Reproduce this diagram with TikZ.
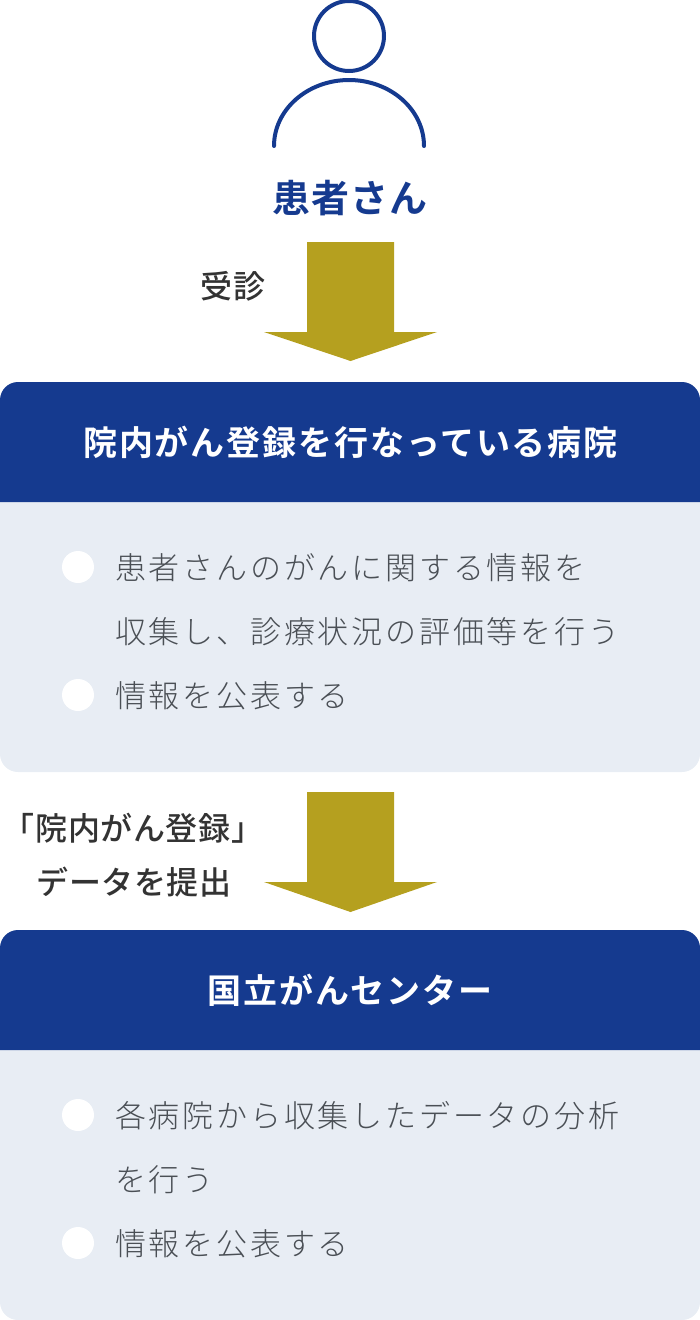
\documentclass[tikz,border=0pt]{standalone}
\usepackage{fontspec}
\newfontfamily\jpbody[LetterSpace=9]{Noto Sans CJK JP Light}
\newfontfamily\jphead[LetterSpace=5.5]{Noto Sans CJK JP Bold}
\newfontfamily\jpname[LetterSpace=2]{Noto Sans CJK JP Bold}
\newfontfamily\jpside[LetterSpace=2]{Noto Sans CJK JP Medium}
\usetikzlibrary{positioning}
\definecolor{navy}{HTML}{153A8F}
\definecolor{gold}{HTML}{B5A01F}
\definecolor{pale}{HTML}{E8EDF4}
\definecolor{ink}{HTML}{333333}
\definecolor{bodyink}{HTML}{4A4F55}
\tikzset{
  bodytext/.style={anchor=west, inner sep=0pt, text=bodyink, font=\jpbody\fontsize{31}{36}\selectfont},
  headtext/.style={inner sep=0pt, text=white, font=\jphead\fontsize{34}{38}\selectfont},
  sidetext/.style={inner sep=0pt, text=ink, font=\jpside\fontsize{32}{36}\selectfont}
}
\begin{document}
\begin{tikzpicture}[x=1pt, y=-1pt]
  \useasboundingbox (0,0) rectangle (700,1320);

  % person
  \draw[navy, line width=4pt] (349,36) circle (35);
  \draw[navy, line width=4pt, line cap=round] (274,146) arc[start angle=180, end angle=360, x radius=75, y radius=66];
  \node[inner sep=0pt, text=navy, font=\jpname\fontsize{38}{42}\selectfont] (patient) at (350,198) {患者さん};

  % first arrow
  \fill[gold] (307,242) -- (394,242) -- (394,332) -- (437,332) -- (350.5,361) -- (264,332) -- (307,332) -- cycle;
  \node[sidetext] (visit) at (233,286) {受診};

  % hospital panel
  \fill[pale] (0,502) -- (700,502) [rounded corners=18] -- (700,772) -- (0,772) [sharp corners] -- cycle;
  \fill[navy] (0,502) [rounded corners=18] -- (0,382) -- (700,382) [sharp corners] -- (700,502) -- cycle;
  \node[headtext] (hospital) at (350.5,442) {院内がん登録を行なっている病院};
  \fill[white] (78,567) circle (16);
  \fill[white] (78,695) circle (16);
  \node[bodytext] (collect) at (115,568) {患者さんのがんに関する情報を};
  \node[bodytext] (assess) at (115,632) {収集し、診療状況の評価等を行う};
  \node[bodytext] (publish) at (115,696) {情報を公表する};

  % second arrow
  \fill[gold] (307,792) -- (394,792) -- (394,882) -- (437,882) -- (350.5,912) -- (264,882) -- (307,882) -- cycle;
  \node[sidetext] (registry) at (133,828) {「院内がん登録」};
  \node[sidetext] (submit) at (134,882) {データを提出};

  % center panel
  \fill[pale] (0,1050) -- (700,1050) [rounded corners=18] -- (700,1320) -- (0,1320) [sharp corners] -- cycle;
  \fill[navy] (0,1050) [rounded corners=18] -- (0,930) -- (700,930) [sharp corners] -- (700,1050) -- cycle;
  \node[headtext] (center) at (350,990) {国立がんセンター};
  \fill[white] (78,1115) circle (16);
  \fill[white] (78,1243) circle (16);
  \node[bodytext] (analyse) at (115,1116) {各病院から収集したデータの分析};
  \node[bodytext] (perform) at (115,1180) {を行う};
  \node[bodytext] (release) at (115,1244) {情報を公表する};
\end{tikzpicture}
\end{document}
